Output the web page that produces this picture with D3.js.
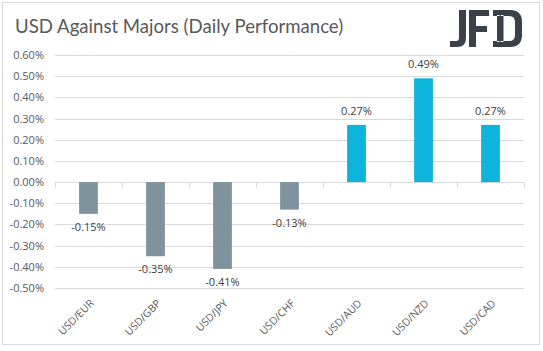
<!DOCTYPE html>
<html lang="en">
  <head>
    <meta charset="utf-8" />
    <title>USD Against Majors</title>
    <script src="https://cdn.jsdelivr.net/npm/d3@7"></script>
    <style type="text/css">
      body {
        margin: 0;
        background: #fff;
      }
      text {
        fill: #595959;
        font-family: "Open Sans", "Liberation Sans", sans-serif;
      }
      text.title {
        font-family: Lato, "Open Sans", sans-serif;
      }
      text.value {
        fill: #404040;
      }
    </style>
  </head>
  <body>
    <div id="chart"></div>

    <script type="text/javascript">
      /*******************************************
       * data
       *******************************************/

      const pairs = ["USD/EUR", "USD/GBP", "USD/JPY", "USD/CHF", "USD/AUD", "USD/NZD", "USD/CAD"];
      const changes = [-0.15, -0.35, -0.41, -0.13, 0.27, 0.49, 0.27];
      const yTicks = [0.6, 0.5, 0.4, 0.3, 0.2, 0.1, 0.0, -0.1, -0.2, -0.3, -0.4, -0.5];
      const title = "USD Against Majors (Daily Performance)";

      /********************************************
       * svg
       ********************************************/

      const width = 543;
      const height = 351;
      const margin = { top: 55, right: 19, bottom: 63, left: 55 };

      const svg = d3.select("div#chart").append("svg");
      svg.attr("width", width).attr("height", height);

      // outer frame
      svg
        .append("rect")
        .attr("x", 2.5)
        .attr("y", 2.5)
        .attr("width", 537)
        .attr("height", 342)
        .attr("fill", "#fff")
        .attr("stroke", "#d9d9d9");

      // title
      svg
        .append("text")
        .attr("class", "title")
        .attr("x", 15)
        .attr("y", 33)
        .attr("font-size", 18.6)
        .text(title);

      /*********************************************
       * scales
       **********************************************/

      const xScale = d3
        .scaleBand()
        .domain(pairs)
        .range([margin.left, width - margin.right])
        .paddingInner(0.72)
        .paddingOuter(0.36);

      const yScale = d3
        .scaleLinear()
        .domain([-0.5, 0.6])
        .range([height - margin.bottom, margin.top]);

      // plain hyphen for negatives, like the original
      const fmt = (v) => (v < 0 ? "-" : "") + Math.abs(v).toFixed(2) + "%";

      /*******************************************
       * grid + axes
       *******************************************/

      const grid = svg.append("g").attr("class", "grid");
      grid
        .selectAll("line")
        .data(yTicks)
        .enter()
        .append("line")
        .attr("x1", margin.left)
        .attr("x2", width - margin.right)
        .attr("y1", (d) => Math.round(yScale(d)) + 0.5)
        .attr("y2", (d) => Math.round(yScale(d)) + 0.5)
        .attr("stroke", "#d9d9d9");

      const yAxis = d3
        .axisLeft(yScale)
        .tickValues(yTicks)
        .tickSize(0)
        .tickPadding(11)
        .tickFormat(fmt);

      svg
        .append("g")
        .attr("class", "y axis")
        .attr("transform", `translate(${margin.left}, 0)`)
        .call(yAxis)
        .call((g) => g.select(".domain").remove())
        .selectAll("text")
        .attr("font-size", 11)
        .attr("font-family", null);

      // category ticks on the zero line
      const step = xScale.step();
      const zeroY = Math.round(yScale(0)) + 0.5;
      svg
        .append("g")
        .selectAll("line")
        .data(d3.range(pairs.length + 1))
        .enter()
        .append("line")
        .attr("x1", (i) => Math.round(margin.left + i * step) + 0.5)
        .attr("x2", (i) => Math.round(margin.left + i * step) + 0.5)
        .attr("y1", zeroY)
        .attr("y2", zeroY + 5)
        .attr("stroke", "#d9d9d9");

      // category labels
      svg
        .append("g")
        .attr("class", "x axis")
        .selectAll("text")
        .data(pairs)
        .enter()
        .append("text")
        .attr(
          "transform",
          (d) => `translate(${xScale(d) + xScale.bandwidth() / 2 + 6}, 304) rotate(-45)`
        )
        .attr("text-anchor", "end")
        .attr("font-size", 10.5)
        .text((d) => d);

      /*******************************************
       * bars
       *******************************************/

      svg
        .append("g")
        .selectAll("rect")
        .data(changes)
        .enter()
        .append("rect")
        .attr("x", (d, i) => xScale(pairs[i]))
        .attr("width", xScale.bandwidth())
        .attr("y", (d) => yScale(Math.max(0, d)))
        .attr("height", (d) => Math.abs(yScale(d) - yScale(0)))
        .attr("fill", (d) => (d < 0 ? "#7f939e" : "#0db4dc"));

      // value labels
      svg
        .append("g")
        .selectAll("text")
        .data(changes)
        .enter()
        .append("text")
        .attr("class", "value")
        .attr("x", (d, i) => xScale(pairs[i]) + xScale.bandwidth() / 2)
        .attr("y", (d) => (d < 0 ? yScale(d) + 17 : yScale(d) - 10))
        .attr("text-anchor", "middle")
        .attr("font-size", 11)
        .text((d) => fmt(d));

      /*******************************************
       * logo
       *******************************************/

      const logo = svg.append("g").attr("fill", "#3b4148");
      logo.append("path").attr("d", "M459,10 H466 V38 Q466,47 457,47 H450 V41 H456 Q459,41 459,38 Z");
      logo.append("path").attr("d", "M469,10 H489 V16 H476 V26 H487 V32 H476 V47 H469 Z");
      logo.append("rect").attr("x", 499.5).attr("y", 10).attr("width", 1.2).attr("height", 37);
      logo.append("rect").attr("x", 497.5).attr("y", 22).attr("width", 5.5).attr("height", 13);
      logo.append("path").attr("d", "M493,10 H510 Q522,10 522,22 V35 Q522,47 510,47 H493 V41 H509 Q515,41 515,35 V22 Q515,16 509,16 H493 Z M497,15 V42 H503.5 V15 Z");
    </script>
  </body>
</html>
